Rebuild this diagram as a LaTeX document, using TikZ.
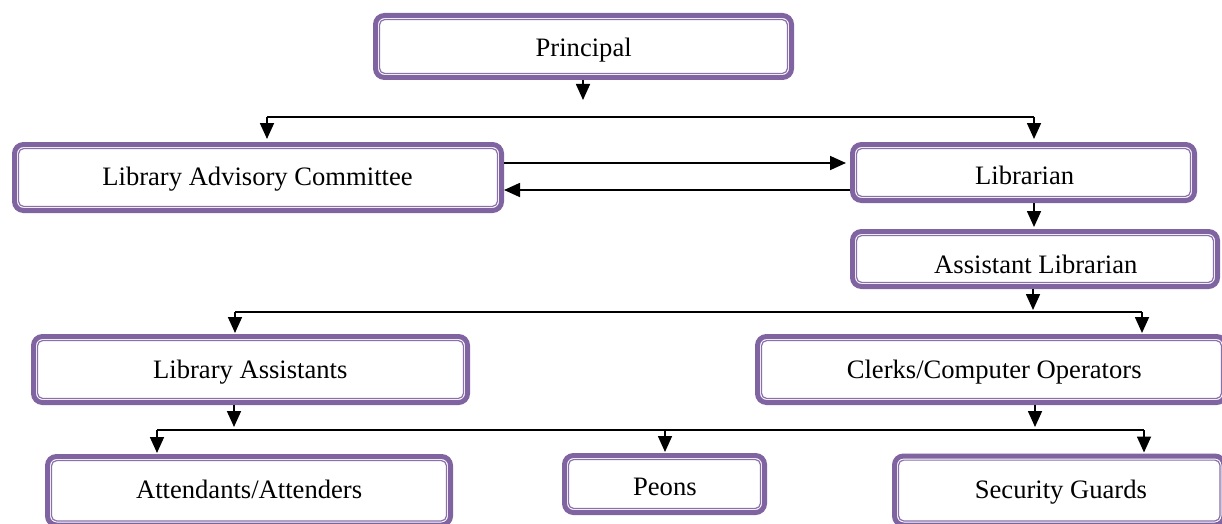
\documentclass[tikz,border=0pt]{standalone}
\usepackage{fontspec}
\setmainfont{Liberation Serif}
\usetikzlibrary{arrows.meta}
\definecolor{purp}{HTML}{8064A2}
\definecolor{purpin}{HTML}{8A70AA}
\tikzset{
  box/.style={draw=purp, line width=5pt, rounded corners=9pt, fill=white, inner sep=0pt},
  innerline/.style={draw=purpin, line width=1.2pt, rounded corners=5pt},
  lbl/.style={anchor=base, inner sep=0pt, font=\fontsize{26.6}{30}\selectfont},
  conn/.style={draw=black, line width=1.7pt},
  arr/.style={conn, -{Triangle[width=14pt,length=16pt]}},
}
\begin{document}
\begin{tikzpicture}[x=1pt,y=-1pt]
\useasboundingbox (0,0) rectangle (1222,524);
\clip (0,0) rectangle (1222,524);
\fill[white] (0,0) rectangle (1222,524);

% boxes
\node[box, minimum width=416pt, minimum height=62pt] (p)   at (583.5,46.5) {};
\node[box, minimum width=487pt, minimum height=66pt] (lac) at (258,177.5) {};
\node[box, minimum width=342pt, minimum height=56pt] (lib) at (1023.5,172.5) {};
\node[box, minimum width=365pt, minimum height=55pt] (al)  at (1035,259) {};
\node[box, minimum width=434pt, minimum height=66pt] (la)  at (250.5,369.5) {};
\node[box, minimum width=468pt, minimum height=66pt] (cl)  at (991.5,369.5) {};
\node[box, minimum width=403pt, minimum height=68.5pt] (at) at (249,490.75) {};
\node[box, minimum width=200pt, minimum height=57pt] (pe)  at (664.5,484) {};
\node[box, minimum width=329.5pt, minimum height=69pt] (sg) at (1059.25,490.5) {};
\foreach \n in {p,lac,lib,al,la,cl,at,pe,sg}
  \draw[innerline] ([shift={(6.6pt,-6.6pt)}]\n.north west) rectangle ([shift={(-6.6pt,6.6pt)}]\n.south east);

% labels
\node[lbl] (tp)   at (583.7,56.7) {Principal};
\node[lbl] (tlac) at (257.5,185) {Library Advisory Committee};
\node[lbl] (tlib) at (1024.6,184) {Librarian};
\node[lbl] (tal)  at (1035.8,273.5) {Assistant Librarian};
\node[lbl] (tla)  at (250.3,378) {Library Assistants};
\node[lbl] (tcl)  at (994.2,378) {Clerks/Computer Operators};
\node[lbl] (tat)  at (249.1,498) {Attendants/Attenders};
\node[lbl] (tpe)  at (664.9,495) {Peons};
\node[lbl] (tsg)  at (1060.9,498) {Security Guards};

% coordinates
\coordinate (pA)  at (583,100);
\coordinate (b1w) at (267,117);
\coordinate (b1e) at (1034,117);
\coordinate (u1)  at ([yshift=14.5pt]lac.east);
\coordinate (u2)  at ([yshift=-17.5pt]lib.west);
\coordinate (x1)  at (1034,0);
\coordinate (b2a) at (1033,310);
\coordinate (b2w) at (235,312);
\coordinate (b2e) at (1142,312);
\coordinate (b3a) at (234,427);
\coordinate (b3b) at (1035,427);
\coordinate (b3w) at (157,430);
\coordinate (b3m) at (665,430);
\coordinate (b3e) at (1144,430);

% connectors
\draw[arr] (pA |- p.south) -- (pA);
\draw[conn] (b1w) -- (b1e);
\draw[arr, shorten >=3pt] (b1w) -- (b1w |- lac.north);
\draw[arr, shorten >=3pt] (b1e) -- (b1e |- lib.north);
\draw[arr, shorten >=4pt] (u1) -- (u1 -| lib.west);
\draw[arr] (u2) -- (u2 -| lac.east);
\draw[arr, shorten >=2pt] (x1 |- lib.south) -- (x1 |- al.north);
\draw[arr] (b2a |- al.south) -- (b2a);
\draw[conn] (b2w) -- (b2e);
\draw[arr, shorten >=1pt] (b2w) -- (b2w |- la.north);
\draw[arr, shorten >=1pt] (b2e) -- (b2e |- cl.north);
\draw[arr] (b3a |- la.south) -- (b3a);
\draw[arr] (b3b |- cl.south) -- (b3b);
\draw[conn] (b3w) -- (b3e);
\draw[arr, shorten >=1pt] (b3w) -- (b3w |- at.north);
\draw[arr, shorten >=1pt] (b3m) -- (b3m |- pe.north);
\draw[arr, shorten >=1pt] (b3e) -- (b3e |- sg.north);
\end{tikzpicture}
\end{document}
